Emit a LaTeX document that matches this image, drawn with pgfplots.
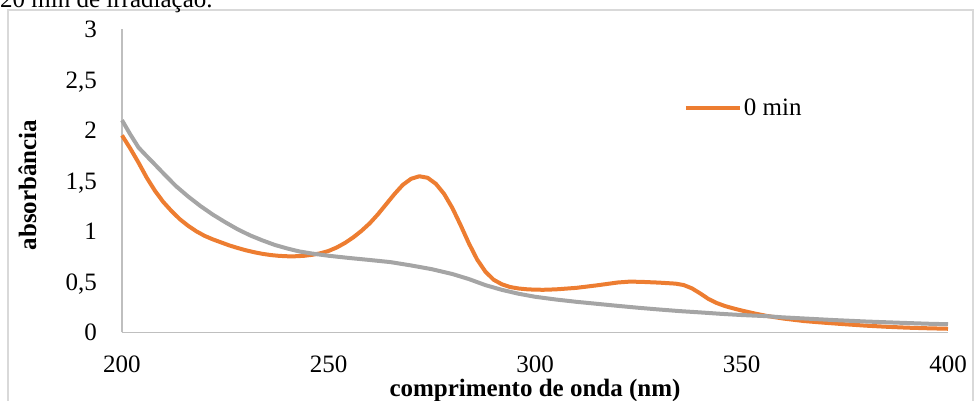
\documentclass[border=0pt]{standalone}
\usepackage{fontspec}
\setmainfont{Liberation Serif}
\usepackage{pgfplots}
\pgfplotsset{compat=1.18}
\definecolor{serOrange}{HTML}{ED7D31}
\definecolor{serGray}{HTML}{A5A5A5}
\definecolor{axGray}{HTML}{BFBFBF}
\definecolor{frGray}{HTML}{D9D9D9}
\newcommand{\bigf}{\fontsize{25}{30}\selectfont}
\begin{document}
\begin{tikzpicture}
\path[use as bounding box, clip] (0pt,0pt) rectangle (974pt,400pt);
\draw[frGray, line width=1.5pt] (8pt,-50pt) rectangle (973pt,390pt);
\node[anchor=base west, inner sep=0pt, font=\bigf] at (0pt,392.5pt) {20 min de irradiação.};
\begin{axis}[
  at={(122pt,67.7pt)}, anchor=south west,
  scale only axis, width=826pt, height=303pt,
  xmin=200, xmax=400, ymin=0, ymax=3,
  axis lines=left,
  axis line style={-, axGray, line width=1.5pt},
  major tick length=0pt,
  xtick={200,250,300,350,400},
  xticklabels={200,250,300,350,400},
  ytick={0,0.5,1,1.5,2,2.5,3},
  yticklabels={0,{0,5},1,{1,5},2,{2,5},3},
  tick label style={font=\bigf, inner sep=0pt},
  xticklabel style={anchor=north, yshift=-23.7pt},
  yticklabel style={anchor=base east, xshift=-25pt, yshift=-8.6pt},
  xlabel={\textbf{comprimento de onda (nm)}},
  ylabel={\textbf{absorbância}},
  every axis x label/.style={at={(axis description cs:0.5,-0.2115)}, anchor=base, font=\bigf, inner sep=0pt},
  every axis y label/.style={at={(axis description cs:-0.104,0.486)}, anchor=base, rotate=90, font=\bigf, inner sep=0pt},
  legend style={draw=none, fill=none, at={(axis description cs:0.680,0.740)}, anchor=west, font=\bigf, inner sep=0pt, nodes={inner sep=2pt}},
  legend image code/.code={\draw[#1] (0pt,0pt) -- (54pt,0pt);},
  clip=false,
]
\addplot[serOrange, line width=4pt, line join=round] coordinates {
(200,1.95) (202,1.82) (204,1.68) (206,1.53) (208,1.40) (210,1.29) (212,1.20) (214,1.12)
(216,1.055) (218,1.00) (220,0.955) (222,0.92) (224,0.89) (226,0.86) (228,0.835) (230,0.812)
(232,0.793) (234,0.777) (236,0.765) (238,0.757) (240,0.753) (242,0.753) (244,0.757) (246,0.767)
(248,0.782) (250,0.805) (252,0.84) (254,0.885) (256,0.94) (258,1.005) (260,1.08) (262,1.17)
(264,1.27) (266,1.37) (268,1.46) (270,1.52) (272,1.545) (274,1.53) (276,1.47) (278,1.37)
(280,1.23) (282,1.06) (284,0.88) (286,0.72) (288,0.60) (290,0.52) (292,0.475) (294,0.448)
(296,0.434) (298,0.426) (300,0.422) (302,0.421) (305,0.425) (310,0.44) (315,0.465) (320,0.493)
(323,0.502) (326,0.499) (330,0.492) (334,0.482) (336,0.468) (338,0.435) (340,0.385) (342,0.33)
(344,0.29) (346,0.26) (348,0.237) (350,0.216) (353,0.188) (356,0.163) (360,0.137) (365,0.112)
(370,0.095) (375,0.08) (380,0.066) (385,0.055) (390,0.046) (395,0.04) (400,0.035)
};
\addlegendentry{0 min}
\addplot[serGray, line width=4pt, line join=round, forget plot] coordinates {
(200,2.10) (202,1.96) (204,1.83) (205.5,1.765) (208,1.66) (210,1.575) (213,1.45) (216,1.345)
(219,1.25) (222,1.165) (225,1.09) (228,1.02) (231,0.96) (234,0.91) (237,0.865) (240,0.83)
(243,0.80) (246,0.78) (250,0.758) (255,0.736) (260,0.716) (265,0.695) (270,0.662) (275,0.625)
(280,0.577) (284,0.527) (288,0.467) (292,0.42) (296,0.382) (300,0.352) (305,0.325) (310,0.302)
(315,0.282) (320,0.262) (325,0.243) (330,0.226) (335,0.21) (340,0.197) (345,0.183) (350,0.171)
(356,0.16) (360,0.148) (372,0.122) (380,0.107) (388,0.095) (395,0.085) (400,0.08)
};
\end{axis}
\end{tikzpicture}
\end{document}
